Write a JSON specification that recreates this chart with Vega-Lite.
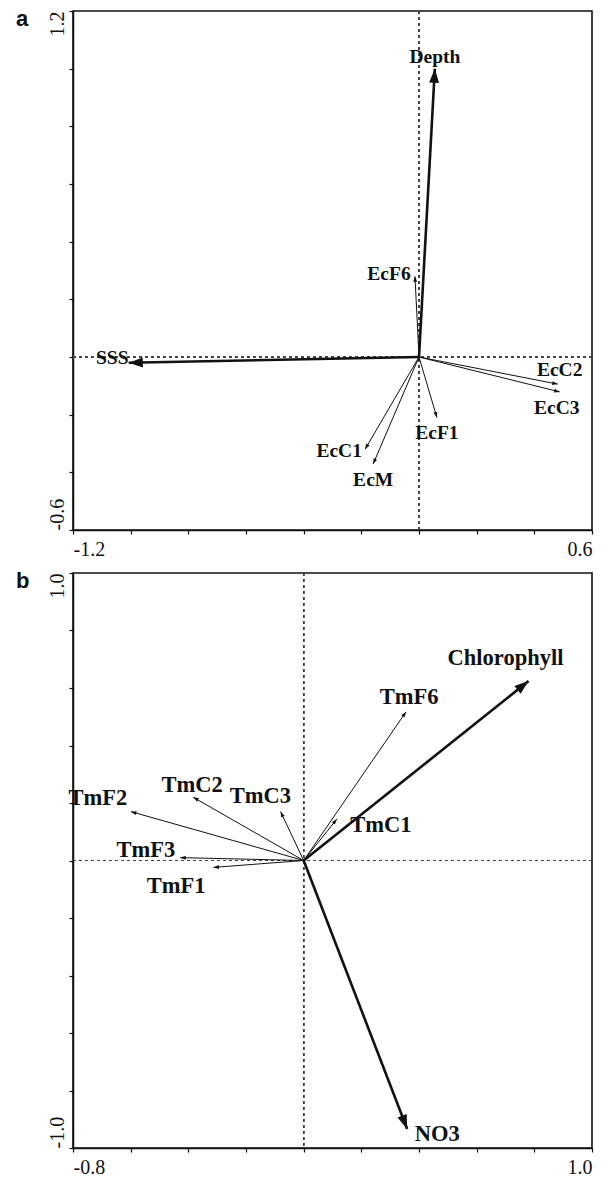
{
  "$schema": "https://vega.github.io/schema/vega-lite/v6.json",
  "padding": {"left": 15, "top": 7, "right": 6, "bottom": 2},
  "spacing": 9,
  "background": "white",
  "config": {
    "view": {"stroke": "#111", "strokeWidth": 1.6},
    "axis": {
      "grid": false,
      "domainColor": "#111",
      "domainWidth": 1.5,
      "tickColor": "#111",
      "tickSize": 4,
      "tickWidth": 1.2,
      "labelFont": "Liberation Serif",
      "labelFontSize": 20,
      "labelColor": "#111",
      "labelOverlap": false,
      "labelBound": false,
      "title": null
    },
    "axisX": {"labelPadding": 5},
    "axisY": {"labelPadding": 2},
    "text": {"font": "Liberation Serif", "fontWeight": "bold", "fontSize": 19, "color": "#111"},
    "title": {"font": "Liberation Sans", "fontSize": 22, "fontWeight": "bold", "color": "#111"}
  },
  "datasets": {
    "panelA": [
      {"name": "Depth", "x": 0.055, "y": 1.0, "lx": 0.055, "ly": 1.041, "kind": "env"},
      {"name": "SSS", "x": -1.007, "y": -0.02, "lx": -1.064, "ly": -0.003, "kind": "env"},
      {"name": "EcF6", "x": -0.014, "y": 0.28, "lx": -0.104, "ly": 0.288, "kind": "taxon"},
      {"name": "EcC2", "x": 0.481, "y": -0.094, "lx": 0.488, "ly": -0.045, "kind": "taxon"},
      {"name": "EcC3", "x": 0.488, "y": -0.121, "lx": 0.478, "ly": -0.177, "kind": "taxon"},
      {"name": "EcF1", "x": 0.062, "y": -0.21, "lx": 0.062, "ly": -0.264, "kind": "taxon"},
      {"name": "EcC1", "x": -0.187, "y": -0.32, "lx": -0.277, "ly": -0.326, "kind": "taxon"},
      {"name": "EcM", "x": -0.159, "y": -0.371, "lx": -0.159, "ly": -0.427, "kind": "taxon"}
    ],
    "panelB": [
      {"name": "Chlorophyll", "x": 0.78, "y": 0.624, "lx": 0.70, "ly": 0.704, "kind": "env"},
      {"name": "NO3", "x": 0.359, "y": -0.934, "lx": 0.463, "ly": -0.951, "kind": "env"},
      {"name": "TmF6", "x": 0.355, "y": 0.517, "lx": 0.366, "ly": 0.569, "kind": "taxon"},
      {"name": "TmC1", "x": 0.115, "y": 0.144, "lx": 0.268, "ly": 0.123, "kind": "taxon"},
      {"name": "TmF2", "x": -0.599, "y": 0.17, "lx": -0.714, "ly": 0.217, "kind": "taxon"},
      {"name": "TmC2", "x": -0.383, "y": 0.22, "lx": -0.387, "ly": 0.263, "kind": "taxon"},
      {"name": "TmC3", "x": -0.08, "y": 0.17, "lx": -0.15, "ly": 0.224, "kind": "taxon"},
      {"name": "TmF3", "x": -0.428, "y": 0.01, "lx": -0.547, "ly": 0.037, "kind": "taxon"},
      {"name": "TmF1", "x": -0.313, "y": -0.024, "lx": -0.442, "ly": -0.089, "kind": "taxon"}
    ]
  },
  "vconcat": [
    {
      "width": 519,
      "height": 519,
      "title": {"text": "a", "anchor": "start", "frame": "group", "dx": -57, "offset": -21, "baseline": "top"},
      "data": {"name": "panelA"},
      "transform": [{"calculate": "atan2(datum.x, datum.y) * 180 / PI", "as": "angle"}],
      "layer": [
        {
          "mark": {"type": "rule", "strokeDash": [3, 3], "color": "#444", "strokeWidth": 1},
          "encoding": {
            "x": {"datum": 0, "type": "quantitative", "scale": {"domain": [-1.2, 0.6], "nice": false, "zero": false}}
          }
        },
        {
          "mark": {"type": "rule", "strokeDash": [3, 3], "color": "#444", "strokeWidth": 1},
          "encoding": {
            "y": {"datum": 0, "type": "quantitative", "scale": {"domain": [-0.6, 1.2], "nice": false, "zero": false}}
          }
        },
        {
          "mark": {"type": "rule", "color": "#111"},
          "encoding": {
            "x": {"field": "x", "type": "quantitative",
              "scale": {"domain": [-1.2, 0.6], "nice": false, "zero": false},
              "axis": {"values": [-1.2, -1, -0.8, -0.6, -0.4, -0.2, 0, 0.2, 0.4, 0.6],
                "labelExpr": "datum.value <= -1.19 ? '-1.2' : (datum.value >= 0.59 ? '0.6' : '')",
                "labelFlush": true}},
            "x2": {"datum": 0},
            "y": {"field": "y", "type": "quantitative",
              "scale": {"domain": [-0.6, 1.2], "nice": false, "zero": false},
              "axis": {"values": [-0.6, -0.4, -0.2, 0, 0.2, 0.4, 0.6, 0.8, 1, 1.2],
                "labelExpr": "datum.value >= 1.19 ? '1.2' : (datum.value <= -0.59 ? '-0.6' : '')",
                "labelAngle": -90,
                "labelAlign": {"condition": {"test": "datum.value > 0", "value": "right"}, "value": "left"},
                "labelBaseline": "bottom"}},
            "y2": {"datum": 0},
            "strokeWidth": {"field": "kind", "type": "nominal", "scale": {"domain": ["env", "taxon"], "range": [2.6, 1]}, "legend": null}
          }
        },
        {
          "mark": {"type": "point", "shape": "M0,0L-0.7,2L0.7,2Z", "filled": true, "color": "#111", "opacity": 1, "strokeWidth": 0},
          "encoding": {
            "x": {"field": "x", "type": "quantitative", "scale": {"domain": [-1.2, 0.6], "nice": false, "zero": false}},
            "y": {"field": "y", "type": "quantitative", "scale": {"domain": [-0.6, 1.2], "nice": false, "zero": false}},
            "angle": {"field": "angle", "type": "quantitative", "scale": null},
            "size": {"field": "kind", "type": "nominal", "scale": {"domain": ["env", "taxon"], "range": [200, 30]}, "legend": null}
          }
        },
        {
          "mark": {"type": "text", "align": "center", "baseline": "middle", "fontSize": 19.5},
          "encoding": {
            "x": {"field": "lx", "type": "quantitative", "scale": {"domain": [-1.2, 0.6], "nice": false, "zero": false}},
            "y": {"field": "ly", "type": "quantitative", "scale": {"domain": [-0.6, 1.2], "nice": false, "zero": false}},
            "text": {"field": "name", "type": "nominal"}
          }
        }
      ]
    },
    {
      "width": 519,
      "height": 575,
      "title": {"text": "b", "anchor": "start", "frame": "group", "dx": -57, "offset": -21, "baseline": "top"},
      "data": {"name": "panelB"},
      "transform": [{"calculate": "atan2(datum.x, datum.y) * 180 / PI", "as": "angle"}],
      "layer": [
        {
          "mark": {"type": "rule", "strokeDash": [3, 3], "color": "#444", "strokeWidth": 1},
          "encoding": {
            "x": {"datum": 0, "type": "quantitative", "scale": {"domain": [-0.8, 1.0], "nice": false, "zero": false}}
          }
        },
        {
          "mark": {"type": "rule", "strokeDash": [3, 3], "color": "#444", "strokeWidth": 1},
          "encoding": {
            "y": {"datum": 0, "type": "quantitative", "scale": {"domain": [-1.0, 1.0], "nice": false, "zero": false}}
          }
        },
        {
          "mark": {"type": "rule", "color": "#111"},
          "encoding": {
            "x": {"field": "x", "type": "quantitative",
              "scale": {"domain": [-0.8, 1.0], "nice": false, "zero": false},
              "axis": {"values": [-0.8, -0.6, -0.4, -0.2, 0, 0.2, 0.4, 0.6, 0.8, 1.0],
                "labelExpr": "datum.value <= -0.79 ? '-0.8' : (datum.value >= 0.99 ? '1.0' : '')",
                "labelFlush": true}},
            "x2": {"datum": 0},
            "y": {"field": "y", "type": "quantitative",
              "scale": {"domain": [-1.0, 1.0], "nice": false, "zero": false},
              "axis": {"values": [-1.0, -0.8, -0.6, -0.4, -0.2, 0, 0.2, 0.4, 0.6, 0.8, 1.0],
                "labelExpr": "datum.value >= 0.99 ? '1.0' : (datum.value <= -0.99 ? '-1.0' : '')",
                "labelAngle": -90,
                "labelAlign": {"condition": {"test": "datum.value > 0", "value": "right"}, "value": "left"},
                "labelBaseline": "bottom"}},
            "y2": {"datum": 0},
            "strokeWidth": {"field": "kind", "type": "nominal", "scale": {"domain": ["env", "taxon"], "range": [2.6, 1]}, "legend": null}
          }
        },
        {
          "mark": {"type": "point", "shape": "M0,0L-0.7,2L0.7,2Z", "filled": true, "color": "#111", "opacity": 1, "strokeWidth": 0},
          "encoding": {
            "x": {"field": "x", "type": "quantitative", "scale": {"domain": [-0.8, 1.0], "nice": false, "zero": false}},
            "y": {"field": "y", "type": "quantitative", "scale": {"domain": [-1.0, 1.0], "nice": false, "zero": false}},
            "angle": {"field": "angle", "type": "quantitative", "scale": null},
            "size": {"field": "kind", "type": "nominal", "scale": {"domain": ["env", "taxon"], "range": [200, 30]}, "legend": null}
          }
        },
        {
          "mark": {"type": "text", "align": "center", "baseline": "middle", "fontSize": 22.5},
          "encoding": {
            "x": {"field": "lx", "type": "quantitative", "scale": {"domain": [-0.8, 1.0], "nice": false, "zero": false}},
            "y": {"field": "ly", "type": "quantitative", "scale": {"domain": [-1.0, 1.0], "nice": false, "zero": false}},
            "text": {"field": "name", "type": "nominal"}
          }
        }
      ]
    }
  ]
}
